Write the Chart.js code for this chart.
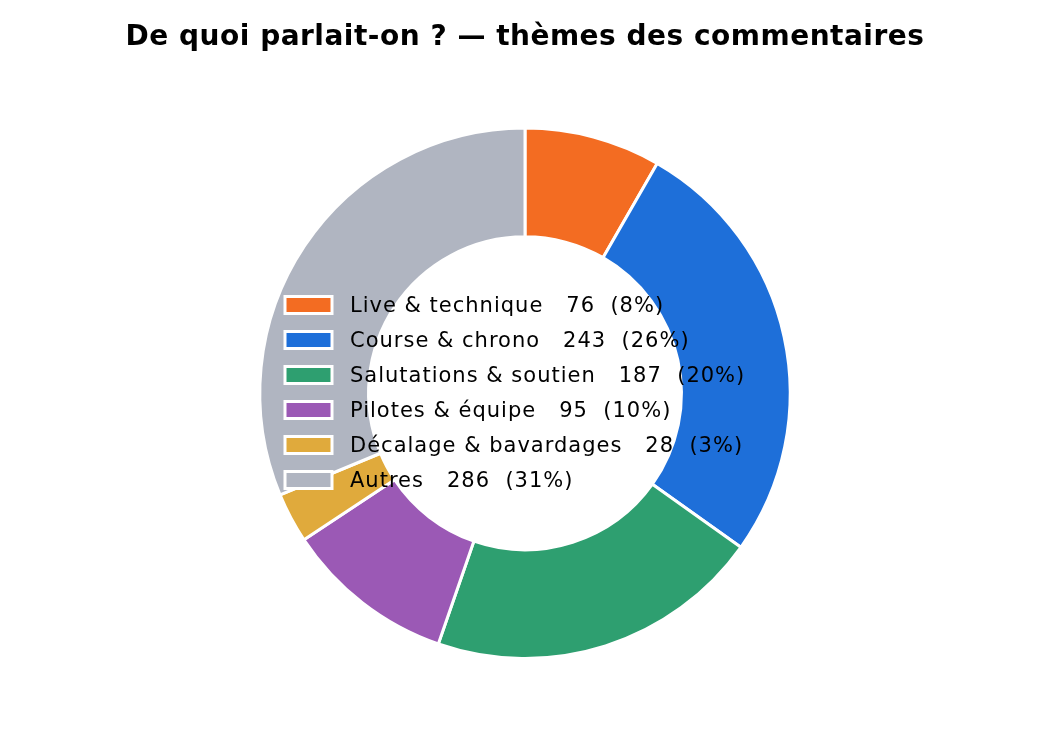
<!DOCTYPE html>
<html>
<head>
<meta charset="utf-8">
<script src="https://cdn.jsdelivr.net/npm/chart.js@4"></script>
<style>
  html, body { margin: 0; padding: 0; background: #fff; }
  #wrap { width: 1050px; height: 750px; }
</style>
</head>
<body>
<div id="wrap"><canvas id="graficoDonut"></canvas></div>
<script>
const themes = ['Live & technique', 'Course & chrono', 'Salutations & soutien', 'Pilotes & équipe', 'Décalage & bavardages', 'Autres'];
const counts = [76, 243, 187, 95, 28, 286];
const percents = [8, 26, 20, 10, 3, 31];
const colors = ['#F36C22', '#1E6FD9', '#2E9F70', '#9B59B5', '#E0AA3C', '#B0B5C1'];

const FONT = '"DejaVu Sans", "Noto Sans", sans-serif';

// un peu d'espacement pour se rapprocher de la police d'origine (plus large)
const espacement = {
    id: 'espacement',
    beforeDraw(chart) { chart.ctx.letterSpacing = '0.5px'; }
};

// légende dessinée par-dessus l'anneau, comme dans l'original
const legendeInterne = {
    id: 'legendeInterne',
    afterDraw(chart) {
        const ctx = chart.ctx;
        const x0 = 285, y0 = 305, pas = 35;
        ctx.save();
        ctx.font = '21px ' + FONT;
        ctx.letterSpacing = '1px';
        ctx.textBaseline = 'middle';
        themes.forEach((t, i) => {
            const y = y0 + i * pas;
            ctx.fillStyle = colors[i];
            ctx.fillRect(x0, y - 8.5, 47, 17);
            ctx.strokeStyle = '#fff';
            ctx.lineWidth = 3;
            ctx.strokeRect(x0, y - 8.5, 47, 17);
            ctx.fillStyle = '#000';
            ctx.fillText(t + '   ' + counts[i] + '  (' + percents[i] + '%)', 350, y + 2);
        });
        ctx.restore();
    }
};

const ctx = document.getElementById('graficoDonut').getContext('2d');
new Chart(ctx, {
    type: 'doughnut',
    data: {
        labels: themes,
        datasets: [{
            data: counts,
            backgroundColor: colors,
            borderColor: '#fff',
            borderWidth: 3,
            hoverOffset: 0
        }]
    },
    options: {
        responsive: true,
        maintainAspectRatio: false,
        animation: false,
        cutout: '59%',
        layout: { padding: { top: 0, bottom: 90, left: 0, right: 0 } },
        plugins: {
            legend: { display: false },
            tooltip: { enabled: false },
            title: {
                display: true,
                text: 'De quoi parlait-on ? — thèmes des commentaires',
                color: '#000',
                font: { family: FONT, size: 28, weight: 'bold' },
                padding: { top: 21, bottom: 72 }
            }
        }
    },
    plugins: [espacement, legendeInterne]
});
</script>
</body>
</html>
